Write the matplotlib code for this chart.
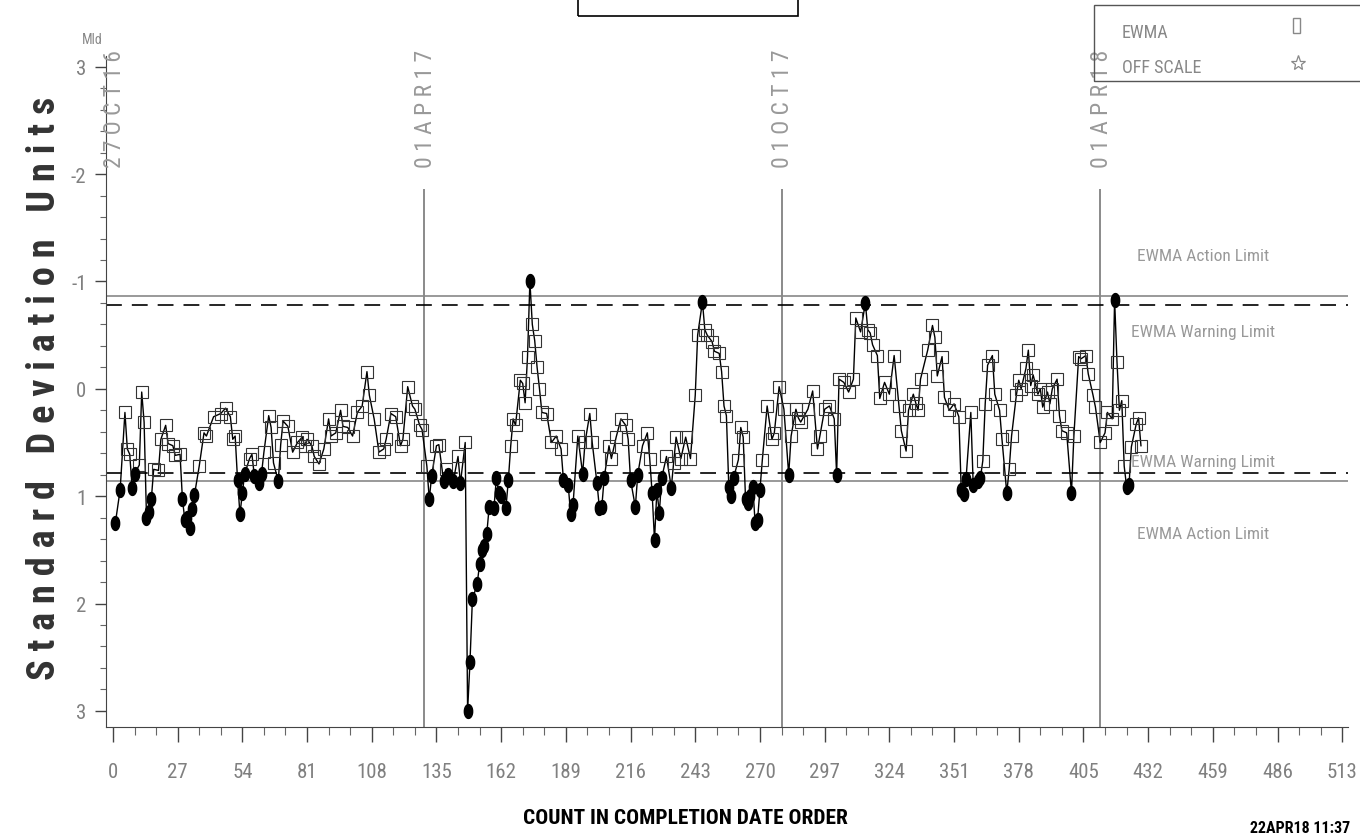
import numpy as np
import matplotlib
matplotlib.use('Agg')
import matplotlib.pyplot as plt
import matplotlib.font_manager as fm
from matplotlib.patches import Rectangle
from matplotlib.lines import Line2D

# 細長いフォントを探す（無ければ DejaVu Sans）
avail = {f.name for f in fm.fontManager.ttflist}
narrow_name = 'DejaVu Sans'
for cand in ['Roboto Condensed', 'Liberation Sans Narrow', 'DejaVu Sans Condensed', 'Open Sans Condensed',
             'Noto Sans Condensed', 'Arial Narrow']:
    if cand in avail:
        narrow_name = cand
        break
narrow = [narrow_name, 'DejaVu Sans']

# EWMA 値（標準偏差単位）- 図から読み取り
counts = [1, 3, 5, 6, 7, 8, 9, 11, 12, 13, 14, 15, 16, 17, 19, 20, 22, 23, 25, 26,
          28, 29, 30, 31, 32, 33, 34, 36, 38, 39, 42, 45, 47, 49, 50, 51, 52, 53, 54, 55,
          57, 58, 59, 61, 62, 63, 65, 66, 67, 69, 70, 71, 73, 75, 77, 79, 80, 81, 83, 84,
          86, 88, 90, 91, 93, 95, 96, 98, 100, 102, 104, 106, 107, 109, 111, 113, 114, 116, 118, 120,
          121, 123, 125, 126, 128, 129, 131, 132, 133, 135, 136, 138, 139, 140, 142, 144, 145, 147, 148, 149,
          150, 152, 153, 154, 155, 156, 157, 159, 160, 161, 162, 164, 165, 166, 167, 168, 170, 171, 172, 173,
          174, 175, 176, 177, 178, 179, 181, 183, 185, 187, 188, 190, 191, 192, 194, 196, 197, 199, 200, 202,
          203, 204, 205, 207, 208, 210, 212, 214, 215, 216, 218, 219, 221, 223, 224, 225, 226, 227, 228, 229,
          231, 233, 234, 235, 237, 239, 241, 243, 244, 246, 247, 248, 250, 251, 253, 254, 255, 256, 257, 258,
          259, 261, 262, 263, 264, 265, 266, 267, 268, 269, 270, 271, 273, 275, 276, 278, 280, 282, 283, 285,
          286, 287, 290, 292, 294, 295, 297, 299, 301, 302, 303, 305, 307, 309, 310, 312, 314, 315, 316, 317,
          319, 320, 322, 324, 326, 328, 329, 331, 332, 334, 335, 336, 337, 340, 342, 343, 344, 346, 347, 349,
          351, 353, 354, 355, 356, 358, 359, 361, 362, 363, 364, 365, 367, 368, 370, 371, 373, 374, 375, 377,
          378, 379, 381, 382, 383, 384, 386, 387, 388, 390, 391, 392, 394, 395, 396, 398, 400, 401, 403, 404,
          406, 407, 409, 410, 412, 414, 415, 417, 418, 419, 420, 421, 422, 423, 424, 425, 427, 428, 429]
ewma = [1.25, 0.94, 0.22, 0.56, 0.61, 0.92, 0.79, 0.71, 0.03, 0.31, 1.2, 1.15, 1.03, 0.75, 0.76, 0.47, 0.34, 0.51, 0.53, 0.62,
        0.61, 1.03, 1.22, 1.2, 1.3, 1.12, 0.99, 0.72, 0.41, 0.44, 0.26, 0.23, 0.18, 0.26, 0.47, 0.44, 0.85, 1.17, 0.97, 0.79,
        0.65, 0.61, 0.81, 0.88, 0.79, 0.59, 0.25, 0.36, 0.69, 0.86, 0.52, 0.3, 0.35, 0.59, 0.5, 0.45, 0.53, 0.47, 0.53, 0.63,
        0.7, 0.56, 0.28, 0.44, 0.41, 0.2, 0.35, 0.36, 0.44, 0.22, 0.16, -0.16, 0.06, 0.28, 0.59, 0.56, 0.47, 0.23, 0.26, 0.53,
        0.47, -0.02, 0.16, 0.19, 0.34, 0.38, 0.72, 1.03, 0.81, 0.53, 0.52, 0.86, 0.75, 0.8, 0.86, 0.63, 0.88, 0.5, 3.0, 2.54,
        1.96, 1.82, 1.63, 1.5, 1.46, 1.35, 1.1, 1.11, 0.83, 0.97, 1.0, 1.11, 0.85, 0.53, 0.28, 0.34, -0.08, -0.05, 0.13, -0.3,
        -1.0, -0.6, -0.45, -0.2, 0.0, 0.22, 0.23, 0.5, 0.44, 0.56, 0.85, 0.9, 1.17, 1.08, 0.44, 0.79, 0.5, 0.23, 0.5, 0.88,
        1.11, 1.1, 0.83, 0.53, 0.65, 0.45, 0.28, 0.34, 0.47, 0.85, 1.1, 0.8, 0.53, 0.41, 0.65, 0.97, 1.41, 0.94, 1.16, 0.83,
        0.63, 0.92, 0.69, 0.45, 0.65, 0.45, 0.65, 0.06, -0.5, -0.81, -0.55, -0.5, -0.44, -0.35, -0.33, -0.16, 0.16, 0.25, 0.91, 1.0,
        0.83, 0.66, 0.36, 0.45, 1.03, 1.06, 1.0, 0.91, 1.25, 1.22, 0.94, 0.66, 0.16, 0.47, 0.41, -0.02, 0.19, 0.8, 0.44, 0.19,
        0.27, 0.31, 0.19, 0.02, 0.56, 0.44, 0.19, 0.16, 0.28, 0.8, -0.09, -0.06, 0.03, -0.09, -0.66, -0.53, -0.8, -0.55, -0.52, -0.41,
        -0.31, 0.09, -0.06, 0.05, -0.31, 0.16, 0.39, 0.58, 0.2, 0.05, 0.13, 0.2, -0.09, -0.36, -0.59, -0.48, -0.12, -0.3, 0.08, 0.2,
        0.14, 0.26, 0.94, 0.98, 0.84, 0.22, 0.9, 0.86, 0.83, 0.67, 0.14, -0.22, -0.31, 0.05, 0.2, 0.47, 0.97, 0.75, 0.44, 0.06,
        -0.08, 0.0, -0.19, -0.36, -0.03, -0.13, 0.05, 0.0, 0.17, 0.03, 0.14, 0.0, -0.09, 0.25, 0.39, 0.41, 0.97, 0.44, -0.3, -0.28,
        -0.31, -0.14, 0.06, 0.17, 0.5, 0.41, 0.22, 0.28, -0.83, -0.25, 0.2, 0.11, 0.72, 0.91, 0.9, 0.54, 0.33, 0.27, 0.53]

action_limit = 0.86
warning_limit = 0.78

event_counts = [0, 130, 279, 412]
event_labels = ['27OCT16', '01APR17', '01OCT17', '01APR18']

x_ticks = list(range(0, 514, 27))
y_ticks = [-3, -2, -1, 0, 1, 2, 3]
y_ticklabels = ['3', '-2', '-1', '0', '1', '2', '3']

# 描画
W, H = 1360, 837
fig = plt.figure(figsize=(W / 100, H / 100), dpi=100)
renderer = fig.canvas.get_renderer()
ax = fig.add_axes([106 / W, 1 - 728 / H, (1348 - 106) / W, (728 - 57) / H])
ax.set_xlim(-2.9, 515.4)
ax.set_ylim(3.15, -3.1)


def fit(t, target_px, along='w'):
    # 文字列の長さを参照画像のピクセル幅に合わせる
    bb = t.get_window_extent(renderer)
    cur = bb.width if along == 'w' else bb.height
    t.set_fontsize(t.get_fontsize() * target_px / cur)
    return t


x = np.array(counts)
y = np.array(ewma)
out = np.abs(y) >= warning_limit

ax.plot(x, y, color='black', lw=1.0, zorder=3)
ax.plot(x[~out], y[~out], ls='none', marker='s', ms=8, mfc='none', mec='#333333', mew=0.8, zorder=4)
t = np.linspace(0, 2 * np.pi, 30)
oval = np.column_stack([0.6 * np.cos(t), np.sin(t)])
ax.plot(x[out], y[out], ls='none', marker=oval, ms=10, mfc='black', mec='black', zorder=5)

# 管理限界
for s in (-1, 1):
    ax.axhline(s * action_limit, color='#888888', lw=1.2, zorder=2)
    ax.axhline(s * warning_limit, color='black', lw=1.2, dashes=(9.5, 6), zorder=2)

lim_x = 455
lim_texts = [(-1.24, 'EWMA Action Limit'), (-0.53, 'EWMA Warning Limit'),
             (0.68, 'EWMA Warning Limit'), (1.35, 'EWMA Action Limit')]
for yy, s in lim_texts:
    ax.text(lim_x, yy, s, ha='center', va='center', fontsize=12.5, color='#999999',
            family=narrow, fontstretch='condensed')

# 日付の縦線
ax.vlines(event_counts[1:], -1.86, 3.15, color='#777777', lw=1.2, zorder=1)
for c, lab in zip(event_counts, event_labels):
    tx = ax.text(c + 0.5, -2.07, ' '.join(lab), rotation=90, ha='center', va='bottom',
                 fontsize=12, color='#999999', family=narrow, fontstretch='condensed')
    fit(tx, 118, along='h')

# 軸
for side in ('top', 'right'):
    ax.spines[side].set_visible(False)
ax.spines['left'].set_color('#444444')
ax.spines['bottom'].set_color('#444444')
ax.set_xticks(x_ticks)
ax.set_xticks(range(0, 514, 9), minor=True)
ax.set_yticks(y_ticks)
ax.set_yticklabels(y_ticklabels)
ax.set_yticks(np.arange(-3, 3.01, 0.2), minor=True)
tick_size = 15 if narrow_name != 'DejaVu Sans' else 13
ax.tick_params(axis='x', which='major', length=11, width=1, pad=14, labelsize=tick_size,
               labelcolor='#808080', color='#444444')
ax.tick_params(axis='x', which='minor', length=6, width=0.8, color='#666666')
ax.tick_params(axis='y', which='major', length=8, width=1, pad=6, labelsize=tick_size,
               labelcolor='#808080', color='#444444')
ax.tick_params(axis='y', which='minor', length=4, width=0.8, color='#666666')
for lab in ax.get_xticklabels() + ax.get_yticklabels():
    lab.set_family(narrow)
    lab.set_fontstretch('condensed')

ylab = fig.text(45 / W, 1 - 388 / H, 'S t a n d a r d   D e v i a t i o n   U n i t s', rotation=90,
                ha='center', va='center', fontsize=24, fontweight='bold', color='#333333',
                family=narrow, fontstretch='condensed')
fit(ylab, 585, along='h')
xlab = fig.text(685 / W, 1 - 819 / H, 'COUNT IN COMPLETION DATE ORDER', ha='center', va='center',
                fontsize=16, fontweight='bold', color='black', family=narrow, fontstretch='condensed')
fit(xlab, 325)
stamp = fig.text(1250 / W, 1 - 836 / H, '22APR18 11:37', ha='left', va='bottom', fontsize=12,
                 fontweight='bold', color='black', family=narrow, fontstretch='condensed')
fit(stamp, 100)
fig.text(92 / W, 1 - 40 / H, 'Mld', ha='center', va='center', fontsize=10, color='#888888',
         family=narrow, fontstretch='condensed')

# タイトル枠
fig.patches.append(Rectangle((578 / W, 1 - 17 / H), 220 / W, 20 / H, transform=fig.transFigure,
                             fill=False, ec='black', lw=1.2))

# 凡例
fig.patches.append(Rectangle((1094 / W, 1 - 82 / H), 280 / W, 76 / H, transform=fig.transFigure,
                             fill=False, ec='#555555', lw=1))
fig.text(1122 / W, 1 - 33 / H, 'EWMA', ha='left', va='center', fontsize=13, color='#888888',
         family=narrow, fontstretch='condensed')
fig.text(1122 / W, 1 - 68 / H, 'OFF SCALE', ha='left', va='center', fontsize=13, color='#888888',
         family=narrow, fontstretch='condensed')
fig.patches.append(Rectangle((1293 / W, 1 - 34 / H), 7 / W, 15 / H, transform=fig.transFigure,
                             fill=False, ec='#888888', lw=1))
fig.add_artist(Line2D([1298 / W], [1 - 64 / H], transform=fig.transFigure, marker='*', ms=11,
                      mfc='none', mec='#888888', mew=0.9))

fig.savefig('out.png', dpi=100)
